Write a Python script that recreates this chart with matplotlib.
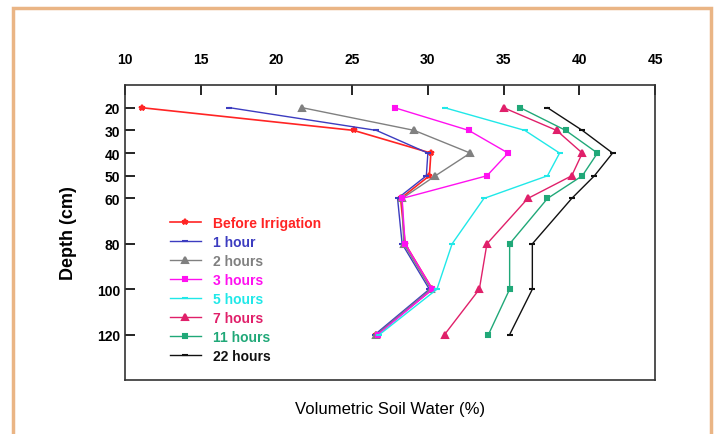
import matplotlib.pyplot as plt
from matplotlib.patches import Rectangle

plt.rcParams['font.family'] = ['Liberation Sans', 'DejaVu Sans']

depth = [20, 30, 40, 50, 60, 80, 100, 120]

before = [11.1, 25.1, 30.2, 30.1, 28.2, 28.5, 30.3, 26.6]
h1 = [16.9, 26.6, 30.0, 29.9, 28.0, 28.3, 30.1, 26.5]
h2 = [21.7, 29.1, 32.8, 30.5, 28.3, 28.4, 30.2, 26.6]
h3 = [27.8, 32.7, 35.3, 33.9, 28.3, 28.5, 30.3, 26.7]
h5 = [31.1, 36.4, 38.7, 37.9, 33.7, 31.6, 30.6, 26.8]
h7 = [35.0, 38.5, 40.2, 39.5, 36.6, 33.9, 33.4, 31.1]
h11 = [36.1, 39.1, 41.2, 40.2, 37.9, 35.4, 35.4, 34.0]
h22 = [37.9, 40.2, 42.2, 41.0, 39.5, 36.9, 36.9, 35.4]

labels = ['Before Irrigation', '1 hour', '2 hours', '3 hours',
          '5 hours', '7 hours', '11 hours', '22 hours']
series = [before, h1, h2, h3, h5, h7, h11, h22]
colors = ['#FF2424', '#3C3CC0', '#808080', '#FF10F0',
          '#20E8E8', '#E0206A', '#20A878', '#111111']
markers = ['*', '_', '^', 's', '_', '^', 's', '_']
msizes = [4, 5, 4, 2.5, 5, 4, 2.5, 5]

xticks = [10, 15, 20, 25, 30, 35, 40, 45]
yticks = [20, 30, 40, 50, 60, 80, 100, 120]

fig = plt.figure(figsize=(7.17, 4.35), dpi=100)

# orange frame round the picture
fig.patches.append(Rectangle((13/717, -0.05), (711-13)/717, 1.05 - 9/435,
                             transform=fig.transFigure, fill=False,
                             edgecolor='#EAB585', linewidth=2.5))

ax = fig.add_axes([125/717, 1-381/435, 530/717, 295/435])

for vals, lab, c, m, ms in zip(series, labels, colors, markers, msizes):
    lw = 1.2 if lab == 'Before Irrigation' else 1.0
    ax.plot(vals, depth, color=c, marker=m, markersize=ms, markeredgewidth=1.5,
            linewidth=lw, label=lab)

ax.set_xlim(10, 45)
ax.set_ylim(140, 10)
ax.set_xticks(xticks)
ax.set_yticks(yticks)
ax.xaxis.tick_top()
ax.tick_params(axis='both', direction='in', length=7, width=1.2, labelsize=10)
ax.tick_params(axis='x', pad=14)
for t in ax.get_xticklabels() + ax.get_yticklabels():
    t.set_fontweight('bold')
for s in ax.spines.values():
    s.set_linewidth(1.2)
    s.set_color('#333333')

ax.set_ylabel('Depth (cm)', fontsize=13, fontweight='bold', labelpad=14)
fig.text(390/717, 1-410/435, 'Volumetric Soil Water (%)', fontsize=12,
         ha='center', va='center')

leg = ax.legend(loc='upper left', bbox_to_anchor=(0.085, 0.555), frameon=False,
                numpoints=1, handlelength=2.2, handletextpad=0.9,
                labelspacing=0.36, borderpad=0, borderaxespad=0,
                prop={'weight': 'bold', 'size': 10}, labelcolor='linecolor')

fig.savefig('out.png', dpi=100)
